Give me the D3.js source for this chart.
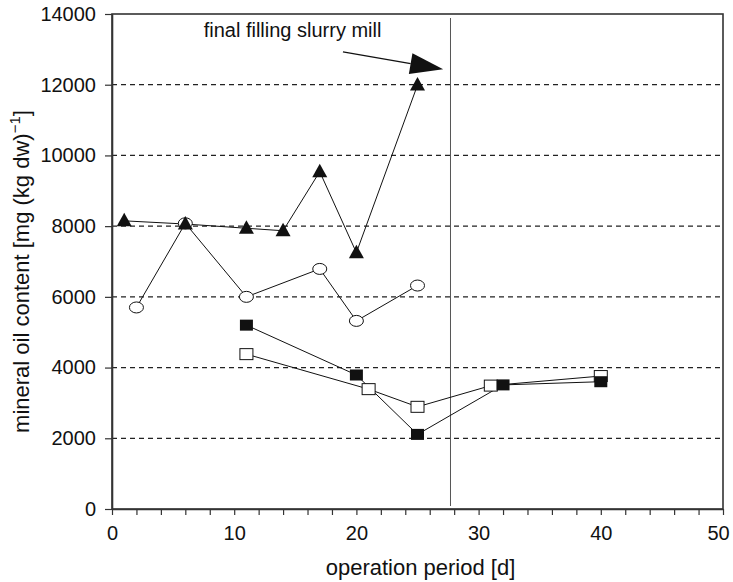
<!DOCTYPE html>
<html>
<head>
<meta charset="utf-8">
<script src="https://cdn.jsdelivr.net/npm/d3@7"></script>
<style>
  html, body { margin: 0; padding: 0; background: #fff; }
  svg { display: block; font-family: "Liberation Sans", Arial, sans-serif; }
</style>
</head>
<body>
<svg id="chart" width="733" height="582"></svg>
<script>
// ---- data ----
const triDays   = [1, 6, 11, 14, 17, 20, 25];
const triValues = [8150, 8060, 7940, 7870, 9540, 7250, 11990];

const circDays   = [2, 6, 11, 17, 20, 25];
const circValues = [5700, 8080, 6000, 6790, 5320, 6320];

const fSqDays   = [11, 20, 25, 32, 40];
const fSqValues = [5200, 3790, 2110, 3510, 3600];

const oSqDays   = [11, 21, 25, 31, 40];
const oSqValues = [4380, 3390, 2890, 3490, 3760];

const xTicks = [0, 10, 20, 30, 40, 50];
const xMinorTicks = d3.range(0, 51, 2);
const yTicks = [0, 2000, 4000, 6000, 8000, 10000, 12000, 14000];
const gridValues = [2000, 4000, 6000, 8000, 10000, 12000];

const markerDay = 27.7;           // "final filling slurry mill"
const annotationText = "final filling slurry mill";
const annotationPos = [7.5, 13350];
const arrowStart = [18.9, 12930];
const arrowTip = [27.1, 12440];

// ---- layout ----
const W = 733, H = 582;
const margin = {left: 112, right: 10, top: 14, bottom: 73};
const svg = d3.select("#chart");

const x = d3.scaleLinear().domain([0, 50]).range([margin.left, W - margin.right]);
const y = d3.scaleLinear().domain([0, 14000]).range([H - margin.bottom, margin.top]);

// gridlines
svg.append("g").selectAll("line").data(gridValues).join("line")
  .attr("x1", x(0)).attr("x2", x(50))
  .attr("y1", d => y(d)).attr("y2", d => y(d))
  .attr("stroke", "#222").attr("stroke-width", 1.2)
  .attr("stroke-dasharray", "5,4");

// frame
svg.append("rect")
  .attr("x", x(0)).attr("y", y(14000))
  .attr("width", x(50) - x(0)).attr("height", y(0) - y(14000))
  .attr("fill", "none").attr("stroke", "#333").attr("stroke-width", 1.6);

// vertical marker line
svg.append("line")
  .attr("x1", x(markerDay)).attr("x2", x(markerDay))
  .attr("y1", y(14000) + 4).attr("y2", y(0) - 3)
  .attr("stroke", "#555").attr("stroke-width", 1);

// axes
const xAxis = d3.axisBottom(x).tickValues(xMinorTicks)
  .tickSize(6).tickSizeOuter(0)
  .tickFormat(d => xTicks.includes(d) ? d : "");
const gx = svg.append("g").attr("transform", `translate(0,${y(0)})`).call(xAxis);
gx.select(".domain").attr("stroke", "#333").attr("stroke-width", 1.6);
gx.selectAll(".tick line").attr("stroke", "#333").attr("stroke-width", 1.2);
gx.selectAll(".tick text").attr("font-size", 20).attr("fill", "#111")
  .attr("font-family", "'Liberation Sans', Arial, sans-serif").attr("dy", "1.12em")
  .attr("dx", d => d === 50 ? -5 : 0);

const yAxis = d3.axisLeft(y).tickValues(yTicks).tickSize(7).tickSizeOuter(0)
  .tickFormat(d => d);
const gy = svg.append("g").attr("transform", `translate(${x(0)},0)`).call(yAxis);
gy.select(".domain").attr("stroke", "#333").attr("stroke-width", 1.6);
gy.selectAll(".tick line").attr("stroke", "#333").attr("stroke-width", 1.2);
gy.selectAll(".tick text").attr("font-size", 20).attr("fill", "#111")
  .attr("font-family", "'Liberation Sans', Arial, sans-serif").attr("x", -16);

// axis titles
svg.append("text")
  .attr("x", (x(0) + x(50)) / 2 + 3).attr("y", 575)
  .attr("text-anchor", "middle").attr("font-size", 22).attr("fill", "#111")
  .text("operation period [d]");

const yl = svg.append("text")
  .attr("transform", `translate(29,${(y(0) + y(14000)) / 2 + 10}) rotate(-90)`)
  .attr("text-anchor", "middle").attr("font-size", 22).attr("fill", "#111");
yl.append("tspan").text("mineral oil content [mg (kg dw)");
yl.append("tspan").attr("font-size", 15).attr("dy", -9).text("\u22121");
yl.append("tspan").attr("dy", 9).text("]");

// series lines
const line = d3.line().x(d => x(d[0])).y(d => y(d[1]));
function drawLine(days, vals) {
  svg.append("path").datum(d3.zip(days, vals))
    .attr("d", line).attr("fill", "none").attr("stroke", "#111").attr("stroke-width", 1);
}
drawLine(circDays, circValues);
drawLine(triDays, triValues);
drawLine(oSqDays, oSqValues);
drawLine(fSqDays, fSqValues);

// markers
svg.append("g").selectAll("ellipse").data(d3.zip(circDays, circValues)).join("ellipse")
  .attr("cx", d => x(d[0])).attr("cy", d => y(d[1]))
  .attr("rx", 7).attr("ry", 5.5)
  .attr("fill", "#fff").attr("stroke", "#111").attr("stroke-width", 1);

svg.append("g").selectAll("path").data(d3.zip(triDays, triValues)).join("path")
  .attr("d", d => {
    const cx = x(d[0]), cy = y(d[1]);
    return `M${cx},${cy - 8}L${cx + 7.5},${cy + 5.5}L${cx - 7.5},${cy + 5.5}Z`;
  })
  .attr("fill", "#111");

svg.append("g").selectAll("rect").data(d3.zip(oSqDays, oSqValues)).join("rect")
  .attr("x", d => x(d[0]) - 6.5).attr("y", d => y(d[1]) - 5.5)
  .attr("width", 13).attr("height", 11)
  .attr("fill", "#fff").attr("stroke", "#111").attr("stroke-width", 1);

svg.append("g").selectAll("rect").data(d3.zip(fSqDays, fSqValues)).join("rect")
  .attr("x", d => x(d[0]) - 6.5).attr("y", d => y(d[1]) - 5.5)
  .attr("width", 13).attr("height", 11)
  .attr("fill", "#111");

// annotation
svg.append("text")
  .attr("x", x(annotationPos[0])).attr("y", y(annotationPos[1]))
  .attr("font-size", 20).attr("fill", "#111").text(annotationText);

const sx = x(arrowStart[0]), sy = y(arrowStart[1]);
const tx = x(arrowTip[0]), ty = y(arrowTip[1]);
const len = Math.hypot(tx - sx, ty - sy);
const ux = (tx - sx) / len, uy = (ty - sy) / len;
const headLen = 33, headHalf = 10.5;
const bx = tx - ux * headLen, by = ty - uy * headLen;
svg.append("line").attr("x1", sx).attr("y1", sy).attr("x2", bx).attr("y2", by)
  .attr("stroke", "#111").attr("stroke-width", 1.3);
svg.append("path")
  .attr("d", `M${tx},${ty}L${bx - uy * headHalf},${by + ux * headHalf}L${bx + uy * headHalf},${by - ux * headHalf}Z`)
  .attr("fill", "#111");
</script>
</body>
</html>
